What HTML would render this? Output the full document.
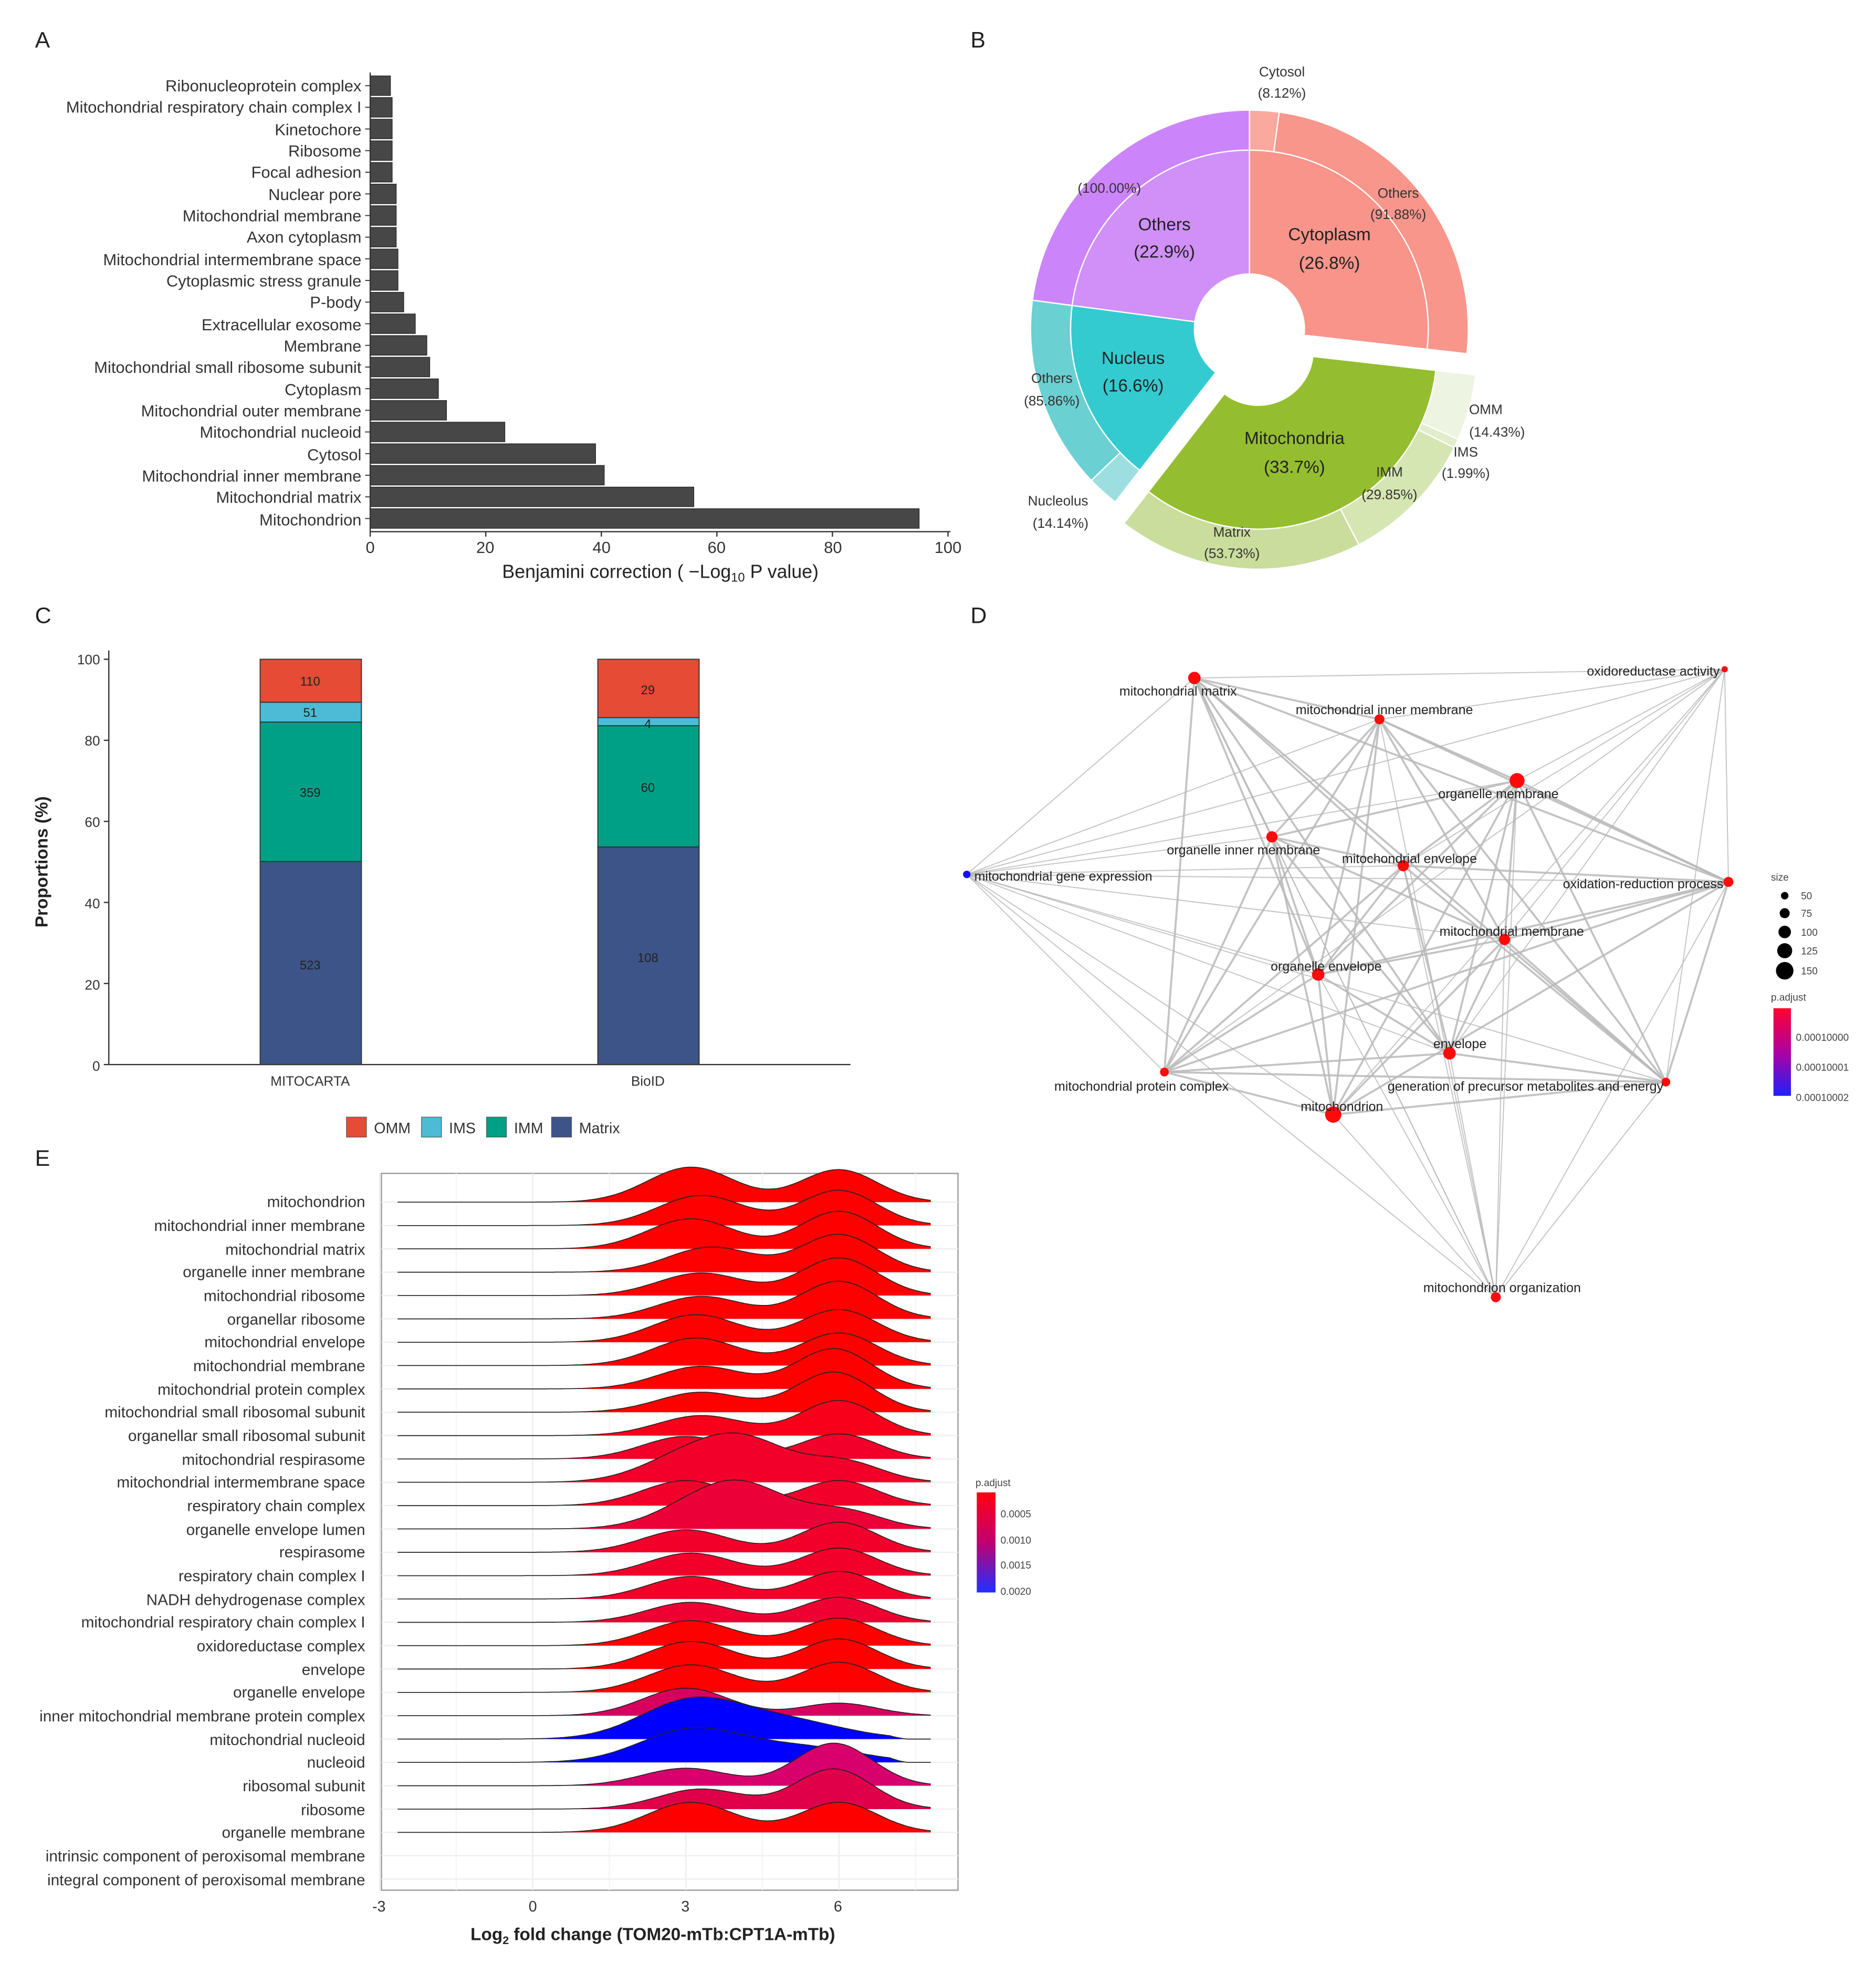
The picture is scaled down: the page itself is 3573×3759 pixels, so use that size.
<!DOCTYPE html>
<html><head><meta charset="utf-8"><style>
html,body{margin:0;padding:0;background:#fff}
svg{display:block}
text{font-family:"Liberation Sans",sans-serif}
</style></head><body>
<svg id="s" xmlns="http://www.w3.org/2000/svg" width="3573" height="3759" viewBox="0 0 1500 1578" preserveAspectRatio="none">
<rect width="1500" height="1578" fill="#fff"/>
<g font-size="18" fill="#222">
<text x="28" y="38">A</text><text x="776" y="38">B</text>
<text x="28" y="498">C</text><text x="776" y="498">D</text>
<text x="28" y="932">E</text></g>

<g id="A"></g>
<g font-size="13" fill="#333" text-anchor="end">
<text x="289" y="73">Ribonucleoprotein complex</text>
<text x="289" y="90">Mitochondrial respiratory chain complex I</text>
<text x="289" y="108">Kinetochore</text>
<text x="289" y="125">Ribosome</text>
<text x="289" y="142">Focal adhesion</text>
<text x="289" y="160">Nuclear pore</text>
<text x="289" y="177">Mitochondrial membrane</text>
<text x="289" y="194">Axon cytoplasm</text>
<text x="289" y="212">Mitochondrial intermembrane space</text>
<text x="289" y="229">Cytoplasmic stress granule</text>
<text x="289" y="246">P-body</text>
<text x="289" y="264">Extracellular exosome</text>
<text x="289" y="281">Membrane</text>
<text x="289" y="298">Mitochondrial small ribosome subunit</text>
<text x="289" y="316">Cytoplasm</text>
<text x="289" y="333">Mitochondrial outer membrane</text>
<text x="289" y="350">Mitochondrial nucleoid</text>
<text x="289" y="368">Cytosol</text>
<text x="289" y="385">Mitochondrial inner membrane</text>
<text x="289" y="402">Mitochondrial matrix</text>
<text x="289" y="420">Mitochondrion</text>
</g>
<g font-size="13" fill="#333" text-anchor="middle">
<text x="296" y="442">0</text><text x="388" y="442">20</text><text x="481" y="442">40</text><text x="573" y="442">60</text><text x="666" y="442">80</text><text x="758" y="442">100</text>
</g>
<text x="528" y="462" font-size="15" fill="#222" text-anchor="middle">Benjamini correction ( −Log<tspan font-size="10" dy="3">10</tspan><tspan dy="-3"> P value)</tspan></text>

<g id="B"></g>
<g font-size="11" fill="#333" text-anchor="middle">
<text x="1025" y="61">Cytosol</text><text x="1025" y="78">(8.12%)</text>
<text x="1118" y="158">Others</text><text x="1118" y="175">(91.88%)</text>
<text x="887" y="154">(100.00%)</text>
<text x="841" y="306">Others</text><text x="841" y="324">(85.86%)</text>
<text x="846" y="404">Nucleolus</text><text x="848" y="422">(14.14%)</text>
<text x="1188" y="331">OMM</text><text x="1197" y="349">(14.43%)</text>
<text x="1172" y="365">IMS</text><text x="1172" y="382">(1.99%)</text>
<text x="1111" y="381">IMM</text><text x="1111" y="399">(29.85%)</text>
<text x="985" y="429">Matrix</text><text x="985" y="446">(53.73%)</text>
</g>
<g font-size="14" fill="#222" text-anchor="middle">
<text x="1063" y="192">Cytoplasm</text><text x="1063" y="215">(26.8%)</text>
<text x="931" y="184">Others</text><text x="931" y="206">(22.9%)</text>
<text x="906" y="291">Nucleus</text><text x="906" y="313">(16.6%)</text>
<text x="1035" y="355">Mitochondria</text><text x="1035" y="378">(33.7%)</text>
</g>

<g id="C"></g>
<g font-size="11" fill="#333" text-anchor="end">
<text x="80" y="531">100</text><text x="80" y="596">80</text><text x="80" y="661">60</text><text x="80" y="726">40</text><text x="80" y="791">20</text><text x="80" y="856">0</text></g>
<g font-size="11" fill="#333" text-anchor="middle"><text x="248" y="868">MITOCARTA</text><text x="518" y="868">BioID</text></g>
<text transform="translate(38,689) rotate(-90)" font-size="14" font-weight="bold" fill="#222" text-anchor="middle">Proportions (%)</text>
<g font-size="10" fill="#222" text-anchor="middle">
<text x="248" y="548">110</text><text x="248" y="573">51</text><text x="248" y="637">359</text><text x="248" y="775">523</text>
<text x="518" y="555">29</text><text x="518" y="582">4</text><text x="518" y="633">60</text><text x="518" y="769">108</text></g>
<g font-size="12" fill="#333">
<rect x="277" y="893" width="16" height="16" fill="#e64b35" stroke="#555" stroke-width=".5"/><text x="299" y="906">OMM</text>
<rect x="337" y="893" width="16" height="16" fill="#4dbbd5" stroke="#555" stroke-width=".5"/><text x="359" y="906">IMS</text>
<rect x="389" y="893" width="16" height="16" fill="#00a087" stroke="#555" stroke-width=".5"/><text x="411" y="906">IMM</text>
<rect x="441" y="893" width="16" height="16" fill="#3c5488" stroke="#555" stroke-width=".5"/><text x="463" y="906">Matrix</text></g>

<g id="Dedges"></g><g id="Dnodes"></g>
<g font-size="10.5" fill="#222">
<text x="895" y="556">mitochondrial matrix</text>
<text x="1375" y="540" text-anchor="end">oxidoreductase activity</text>
<text x="1036" y="571">mitochondrial inner membrane</text>
<text x="1150" y="638">organelle membrane</text>
<text x="933" y="683">organelle inner membrane</text>
<text x="1073" y="690">mitochondrial envelope</text>
<text x="779" y="704">mitochondrial gene expression</text>
<text x="1378" y="710" text-anchor="end">oxidation-reduction process</text>
<text x="1151" y="748">mitochondrial membrane</text>
<text x="1016" y="776">organelle envelope</text>
<text x="1146" y="838">envelope</text>
<text x="843" y="872">mitochondrial protein complex</text>
<text x="1330" y="872" text-anchor="end">generation of precursor metabolites and energy</text>
<text x="1040" y="888">mitochondrion</text>
<text x="1138" y="1033">mitochondrion organization</text>
</g>
<g font-size="8" fill="#444">
<text x="1416" y="704">size</text>
<circle cx="1427" cy="716" r="3" fill="#000"/><text x="1440" y="719">50</text>
<circle cx="1427" cy="730" r="4" fill="#000"/><text x="1440" y="733">75</text>
<circle cx="1427" cy="745" r="5" fill="#000"/><text x="1440" y="748">100</text>
<circle cx="1427" cy="760" r="6" fill="#000"/><text x="1440" y="763">125</text>
<circle cx="1427" cy="776" r="7" fill="#000"/><text x="1440" y="779">150</text>
<text x="1416" y="800">p.adjust</text>
<text x="1436" y="832">0.00010000</text><text x="1436" y="856">0.00010001</text><text x="1436" y="880">0.00010002</text>
</g>
<defs>
<linearGradient id="gD" x1="0" y1="0" x2="0" y2="1"><stop offset="0" stop-color="#ff0030"/><stop offset=".5" stop-color="#b000a0"/><stop offset="1" stop-color="#2020ff"/></linearGradient>
<linearGradient id="gE" x1="0" y1="0" x2="0" y2="1"><stop offset="0" stop-color="#ff0010"/><stop offset=".5" stop-color="#c00070"/><stop offset="1" stop-color="#2030ff"/></linearGradient>
</defs>
<rect x="1418" y="806" width="14" height="70" fill="url(#gD)"/>

<rect x="305" y="938" width="461" height="573" fill="#fff" stroke="#999" stroke-width="1"/>
<g id="Egrid"></g><g id="E"></g>
<g font-size="12.5" fill="#333" text-anchor="end" id="Elab">
<text x="292" y="965">mitochondrion</text>
<text x="292" y="984">mitochondrial inner membrane</text>
<text x="292" y="1003">mitochondrial matrix</text>
<text x="292" y="1021">organelle inner membrane</text>
<text x="292" y="1040">mitochondrial ribosome</text>
<text x="292" y="1059">organellar ribosome</text>
<text x="292" y="1077">mitochondrial envelope</text>
<text x="292" y="1096">mitochondrial membrane</text>
<text x="292" y="1115">mitochondrial protein complex</text>
<text x="292" y="1133">mitochondrial small ribosomal subunit</text>
<text x="292" y="1152">organellar small ribosomal subunit</text>
<text x="292" y="1171">mitochondrial respirasome</text>
<text x="292" y="1189">mitochondrial intermembrane space</text>
<text x="292" y="1208">respiratory chain complex</text>
<text x="292" y="1227">organelle envelope lumen</text>
<text x="292" y="1245">respirasome</text>
<text x="292" y="1264">respiratory chain complex I</text>
<text x="292" y="1283">NADH dehydrogenase complex</text>
<text x="292" y="1301">mitochondrial respiratory chain complex I</text>
<text x="292" y="1320">oxidoreductase complex</text>
<text x="292" y="1339">envelope</text>
<text x="292" y="1357">organelle envelope</text>
<text x="292" y="1376">inner mitochondrial membrane protein complex</text>
<text x="292" y="1395">mitochondrial nucleoid</text>
<text x="292" y="1413">nucleoid</text>
<text x="292" y="1432">ribosomal subunit</text>
<text x="292" y="1451">ribosome</text>
<text x="292" y="1469">organelle membrane</text>
<text x="292" y="1488">intrinsic component of peroxisomal membrane</text>
<text x="292" y="1507">integral component of peroxisomal membrane</text>
</g>
<g font-size="12" fill="#333" text-anchor="middle">
<text x="303" y="1528">-3</text><text x="426" y="1528">0</text><text x="548" y="1528">3</text><text x="670" y="1528">6</text></g>
<text x="522" y="1551" font-size="14" font-weight="bold" fill="#222" text-anchor="middle">Log<tspan font-size="9" dy="3">2</tspan><tspan dy="-3"> fold change (TOM20-mTb:CPT1A-mTb)</tspan></text>
<g font-size="8" fill="#444"><text x="780" y="1188">p.adjust</text>
<text x="800" y="1213">0.0005</text><text x="800" y="1234">0.0010</text><text x="800" y="1254">0.0015</text><text x="800" y="1275">0.0020</text></g>
<rect x="781" y="1193" width="15" height="80" fill="url(#gE)"/>
</svg>
<script>
var NS="http://www.w3.org/2000/svg";
function el(p,t,a){var e=document.createElementNS(NS,t);for(var k in a)e.setAttribute(k,a[k]);document.getElementById(p).appendChild(e);return e;}
var vals=[3.5,3.8,3.8,3.8,3.8,4.5,4.5,4.5,4.8,4.8,5.8,7.8,9.8,10.3,11.8,13.2,23.3,39,40.5,56,95];
vals.forEach(function(v,i){var y=68.5+i*17.3;el("A","rect",{x:296,y:y-7.8,width:v*4.62,height:15.6,fill:"#474747",stroke:"#2a2a2a","stroke-width":.6});
el("A","line",{x1:292,x2:296,y1:y,y2:y,stroke:"#333","stroke-width":.8});});
el("A","line",{x1:296,x2:296,y1:58,y2:425,stroke:"#333","stroke-width":1});
el("A","line",{x1:296,x2:760,y1:425,y2:425,stroke:"#333","stroke-width":1});
[0,20,40,60,80,100].forEach(function(v){var x=296+v*4.62;el("A","line",{x1:x,x2:x,y1:425,y2:429,stroke:"#333"});});
var cx=999,cy=263;
function pt(r,a,ox,oy){var t=a*Math.PI/180;return [cx+ox+r*Math.sin(t),cy+oy-r*Math.cos(t)];}
function arc(r0,r1,a0,a1,f,ox,oy){ox=ox||0;oy=oy||0;var lg=(a1-a0)>180?1:0;
var p1=pt(r1,a0,ox,oy),p2=pt(r1,a1,ox,oy),p3=pt(r0,a1,ox,oy),p4=pt(r0,a0,ox,oy);
var d="M"+p1+"A"+r1+","+r1+" 0 "+lg+" 1 "+p2+"L"+p3+"A"+r0+","+r0+" 0 "+lg+" 0 "+p4+"Z";
el("B","path",{d:d,fill:f,stroke:"#fff","stroke-width":1});}
var H=44,R1=143,R2=175;
var a1=360*0.268,a2=a1+360*0.337,a3=a2+360*0.166;
arc(H,R1,0,a1,"#f8948a");arc(R1,R2,0,a1*0.0812,"#fba89f");arc(R1,R2,a1*0.0812,a1,"#f8968c");
var ox=7,oy=17,m=a2-a1;
arc(H,R1,a1,a2,"#94be30",ox,oy);
var fr=[0.1443,0.0199,0.2985,0.5373],cols=["#eef4e2","#e2edcb","#d6e6b3","#cadd9c"],a=a1;
fr.forEach(function(f,i){arc(R1,R2,a,a+m*f,cols[i],ox,oy);a+=m*f;});
arc(H,R1,a2,a3,"#33cbd0");var n=a3-a2;arc(R1,R2,a2,a2+n*0.1414,"#9ddfe0");arc(R1,R2,a2+n*0.1414,a3,"#6bd0d2");
arc(H,R1,a3,360,"#d090f8");arc(R1,R2,a3,360,"#cc84fa");
var yC=function(p){return 851-p*3.24;};
el("C","line",{x1:87,x2:87,y1:520,y2:851,stroke:"#333"});
el("C","line",{x1:87,x2:680,y1:851,y2:851,stroke:"#333"});
[0,20,40,60,80,100].forEach(function(v){el("C","line",{x1:83,x2:87,y1:yC(v),y2:yC(v),stroke:"#333"});});
function stack(x,arr){var c=["#3c5488","#00a087","#4dbbd5","#e64b35"],b=0;arr.forEach(function(v,i){el("C","rect",{x:x,y:yC(b+v),width:81,height:v*3.24,fill:c[i],stroke:"#333","stroke-width":.8});b+=v;});}
stack(208,[50.1,34.4,4.9,10.6]);stack(478,[53.7,29.9,2.0,14.4]);
var N=[[955,542,5],[1379,535,2.5],[1103,575,4],[1213,624,6],[1017,669,4.5],[1122,692,4.5],[773,699,3],[1382,705,4],[1203,751,4.5],[1054,779,5],[1159,842,5],[931,857,3.5],[1332,865,3.5],[1066,891,6.5],[1196,1037,4]];
for(var i=0;i<N.length;i++)for(var j=i+1;j<N.length;j++){if((i*7+j*3)%5==4&&i!=6&&j!=6)continue;
var w=(i==6||j==6||i==1||j==1||j==14)?0.8:1.6;
el("Dedges","line",{x1:N[i][0],y1:N[i][1],x2:N[j][0],y2:N[j][1],stroke:"#b9b9b9","stroke-width":w,"stroke-opacity":.85});}
N.forEach(function(p,i){el("Dnodes","circle",{cx:p[0],cy:p[1],r:p[2],fill:i==6?"#1010ff":"#ff0a0a"});});
for(var v=-3;v<=7.5;v+=1.5){var x=426+v*40.8;el("Egrid","line",{x1:x,x2:x,y1:938,y2:1511,stroke:v%3==0?"#ececec":"#f5f5f5","stroke-width":1});}
for(var k=0;k<30;k++){var y=961+k*18.66;el("Egrid","line",{x1:305,x2:766,y1:y,y2:y,stroke:"#efefef"});}
var R=[[28,3.1,26,6,0,0,"#ff0000"],[24,3.3,28,6,0,0,"#ff0000"],[24,3.1,30,6,0,0,"#ff0000"],[20,3.5,30,6,0,0,"#ff0000"],[18,3.3,30,6,0,0,"#ff0000"],[18,3.3,30,6,0,0,"#ff0000"],[22,3.2,26,6,0,0,"#ff0000"],[22,3.2,26,6,0,0,"#ff0000"],[18,3.3,32,5.9,0,0,"#ff0000"],[16,3.3,32,5.9,0,0,"#ff0000"],[16,3.3,28,6,0,0,"#f8001a"],
[18,3,20,6,0,0,"#f2002a"],[14,2.8,16,6.1,34,4.1,"#f2002a"],[20,3,20,6,0,0,"#f2002a"],[10,3,14,6.1,34,4.1,"#ec0038"],[18,3,24,6,0,0,"#f2002a"],[18,3.1,22,6,0,0,"#f2002a"],[18,3.1,22,6,0,0,"#f2002a"],[16,3.1,20,6,0,0,"#ee0032"],[20,3.1,22,6,0,0,"#ff0000"],[22,3.1,24,6,0,0,"#ff0000"],[22,3.1,24,6,0,0,"#ff0000"],
[22,3,10,6,0,0,"#d8005e"],[30,3.1,14,5,0,0,"#0000ff"],[26,3.1,12,5.3,0,0,"#0000ff"],[14,3,34,5.9,0,0,"#d8006c"],[16,3.3,32,5.9,0,0,"#e0004a"],[24,3.1,24,6,0,0,"#ff0000"]];
R.forEach(function(r,k){var base=961+k*18.66,pts=[],s=0.85;
for(var v=-2.65;v<=7.8;v+=0.05){var d=r[0]*Math.exp(-Math.pow(v-r[1],2)/(2*s*s))+r[2]*Math.exp(-Math.pow(v-r[3],2)/(2*0.75*0.75))+r[4]*Math.exp(-Math.pow(v-r[5],2)/(2*0.9*0.9));
if(k==23||k==24){d=r[0]*Math.exp(-Math.pow(v-r[1],2)/(2*1.0*1.0))+r[2]*Math.exp(-Math.pow(v-r[3],2)/(2*1.1*1.1));if(v>7)d*=Math.max(0,1-(v-7)*3);}
pts.push([(426+v*40.8).toFixed(1),(base-d).toFixed(1)]);}
var line="M"+pts.join("L");
el("E","path",{d:line+"L"+pts[pts.length-1][0]+","+base+"L"+pts[0][0]+","+base+"Z",fill:r[6],stroke:"none"});
el("E","path",{d:line,fill:"none",stroke:"#222","stroke-width":.7});});
</script>
</body></html>
